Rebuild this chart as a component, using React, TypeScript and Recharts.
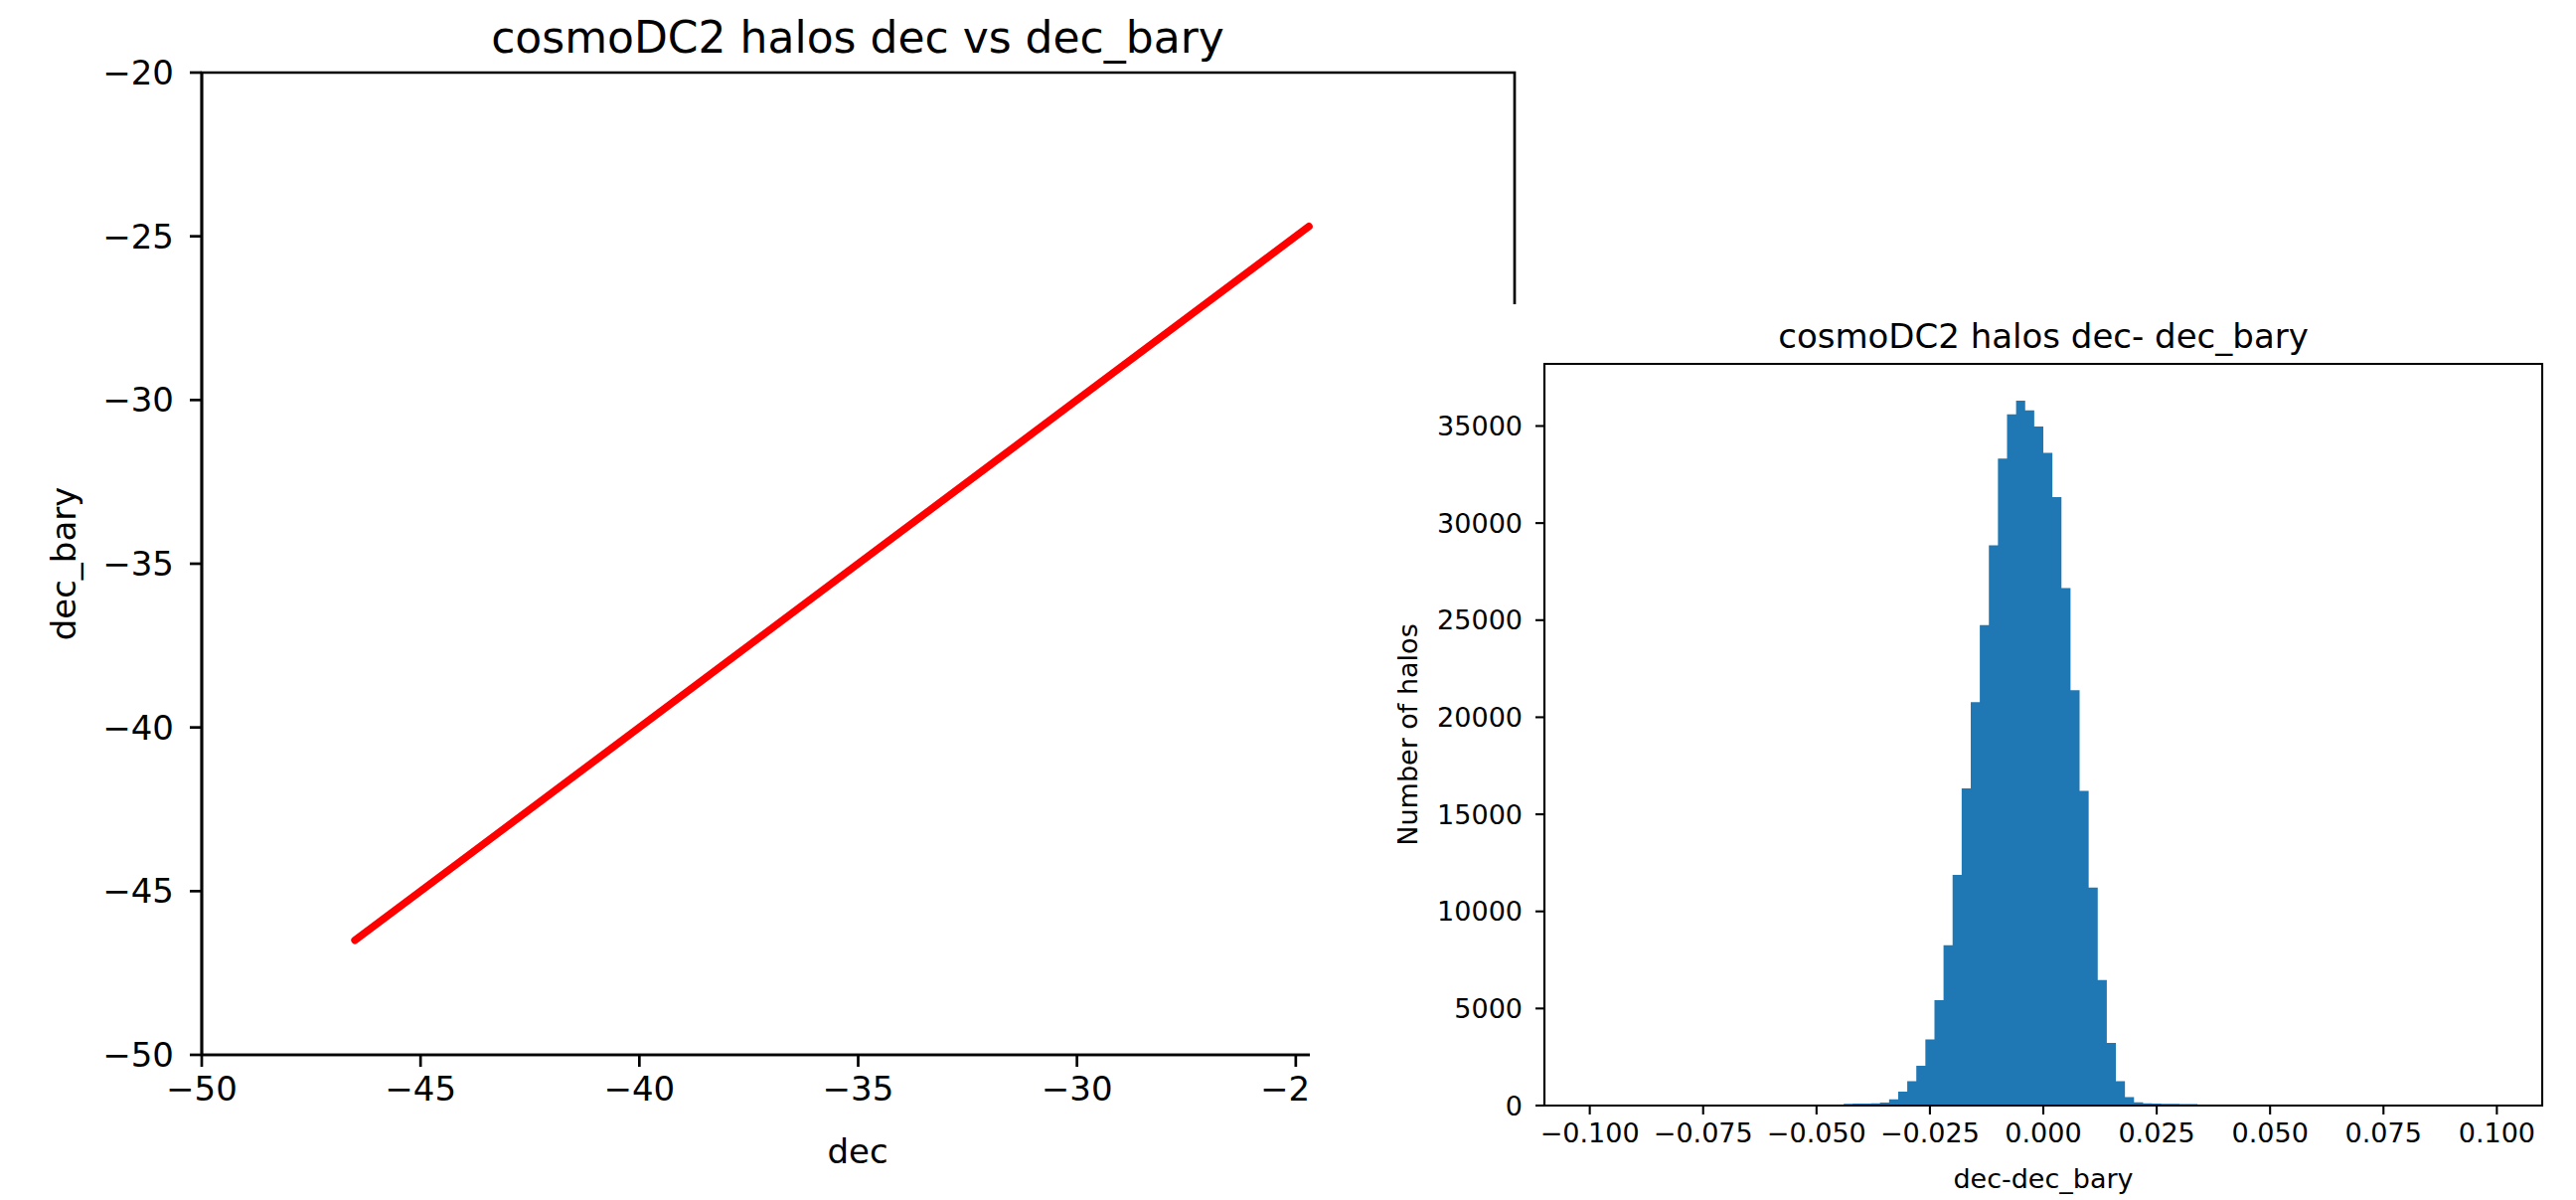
import { LineChart, Line, XAxis, YAxis, ReferenceArea, ComposedChart, Area } from 'recharts';

// left panel: dec vs dec_bary (points read along the red band)
const decValues = [-46.5, -42, -38, -34, -30, -27, -24.7];
const decBaryValues = [-46.5, -42, -38, -34, -30, -27, -24.7];
const leftTicks = [-50, -45, -40, -35, -30, -25, -20];

// right panel: histogram of dec - dec_bary, bins of 0.002 (left edges)
const binStarts = [
  -0.044, -0.042, -0.04, -0.038, -0.036, -0.034, -0.032, -0.03, -0.028, -0.026,
  -0.024, -0.022, -0.02, -0.018, -0.016, -0.014, -0.012, -0.01, -0.008, -0.006,
  -0.004, -0.002, 0, 0.002, 0.004, 0.006, 0.008, 0.01, 0.012, 0.014,
  0.016, 0.018, 0.02, 0.022, 0.024, 0.026, 0.028, 0.03, 0.032, 0.034,
];
const binCounts = [
  90, 100, 100, 110, 150, 320, 720, 1250, 2050, 3400,
  5430, 8255, 11875, 16340, 20775, 24740, 28860, 33320, 35600, 36300,
  35800, 34980, 33615, 31335, 26650, 21390, 16210, 11230, 6470, 3220,
  1250, 430, 170, 120, 100, 90, 90, 80, 80, 0,
];
const histXTicks = [-0.1, -0.075, -0.05, -0.025, 0, 0.025, 0.05, 0.075, 0.1];
const histYTicks = [0, 5000, 10000, 15000, 20000, 25000, 30000, 35000];

const FONT = 'DejaVu Sans';
const minus = (s: string) => s.replace('-', '\u2212');

export default function App() {
  const lineData = decValues.map((d, i) => ({ dec: d, decBary: decBaryValues[i] }));
  const histData = binStarts.map((b, i) => ({ bin: b, count: binCounts[i] }));

  return (
    <div style={{ position: 'absolute', left: 0, top: 0, width: 2592, height: 1207, background: '#fff', overflow: 'hidden' }}>
      {/* left figure */}
      <div style={{ position: 'absolute', left: 0, top: 0 }}>
        <LineChart width={1600} height={1207} data={lineData} margin={{ top: 73, right: 76, bottom: 0, left: 0 }}>
          <XAxis
            type="number"
            dataKey="dec"
            domain={[-50, -20]}
            ticks={leftTicks}
            allowDataOverflow
            height={146}
            tickSize={12}
            tickMargin={10}
            tickFormatter={(v: number) => minus(String(v))}
            axisLine={{ stroke: '#000', strokeWidth: 2.7 }}
            tickLine={{ stroke: '#000', strokeWidth: 2.7 }}
            tick={{ fill: '#000', fontSize: 34, fontFamily: FONT }}
          />
          <YAxis
            type="number"
            domain={[-50, -20]}
            ticks={leftTicks}
            allowDataOverflow
            width={203}
            tickSize={12}
            tickMargin={16}
            tickFormatter={(v: number) => minus(String(v))}
            axisLine={{ stroke: '#000', strokeWidth: 2.7 }}
            tickLine={{ stroke: '#000', strokeWidth: 2.7 }}
            tick={{ fill: '#000', fontSize: 34, fontFamily: FONT }}
          />
          <ReferenceArea x1={-50} x2={-20} y1={-50} y2={-20} fill="none" stroke="#000" strokeWidth={2.7} />
          <Line
            type="linear"
            dataKey="decBary"
            stroke="#ff0000"
            strokeWidth={7.5}
            strokeLinecap="round"
            dot={false}
            isAnimationActive={false}
          />
        </LineChart>
      </div>
      <svg width={1600} height={1207} style={{ position: 'absolute', left: 0, top: 0, pointerEvents: 'none' }}>
        <text x={863} y={53} textAnchor="middle" fontFamily={FONT} fontSize={44} fill="#000">
          cosmoDC2 halos dec vs dec_bary
        </text>
        <text x={863} y={1170} textAnchor="middle" fontFamily={FONT} fontSize={34} fill="#000">
          dec
        </text>
        <text x={64} y={567} textAnchor="middle" dominantBaseline="central" transform="rotate(-90 64 567)" fontFamily={FONT} fontSize={34} fill="#000">
          dec_bary
        </text>
      </svg>

      {/* right figure, pasted over the left one */}
      <div style={{ position: 'absolute', left: 1318, top: 306, width: 1274, height: 901, background: '#fff' }}>
        <ComposedChart width={1274} height={901} data={histData} margin={{ top: 60, right: 34, bottom: 0, left: 0 }}>
          <XAxis
            type="number"
            dataKey="bin"
            domain={[-0.11, 0.11]}
            ticks={histXTicks}
            allowDataOverflow
            height={95}
            tickSize={9}
            tickMargin={9}
            tickFormatter={(v: number) => minus(v.toFixed(3))}
            axisLine={{ stroke: '#000', strokeWidth: 2.1 }}
            tickLine={{ stroke: '#000', strokeWidth: 2.1 }}
            tick={{ fill: '#000', fontSize: 27, fontFamily: FONT }}
          />
          <YAxis
            type="number"
            domain={[0, 38200]}
            ticks={histYTicks}
            allowDataOverflow
            width={236}
            tickSize={9}
            tickMargin={13}
            axisLine={{ stroke: '#000', strokeWidth: 2.1 }}
            tickLine={{ stroke: '#000', strokeWidth: 2.1 }}
            tick={{ fill: '#000', fontSize: 27, fontFamily: FONT }}
          />
          <Area
            type="stepAfter"
            dataKey="count"
            fill="#1f77b4"
            fillOpacity={1}
            stroke="none"
            isAnimationActive={false}
          />
          <ReferenceArea x1={-0.11} x2={0.11} y1={0} y2={38200} fill="none" stroke="#000" strokeWidth={2.1} />
        </ComposedChart>
        <svg width={1274} height={901} style={{ position: 'absolute', left: 0, top: 0, pointerEvents: 'none' }}>
          <text x={738} y={44} textAnchor="middle" fontFamily={FONT} fontSize={34} fill="#000">
            cosmoDC2 halos dec- dec_bary
          </text>
          <text x={738} y={889} textAnchor="middle" fontFamily={FONT} fontSize={27} fill="#000">
            dec-dec_bary
          </text>
          <text x={98} y={433} textAnchor="middle" dominantBaseline="central" transform="rotate(-90 98 433)" fontFamily={FONT} fontSize={27} fill="#000">
            Number of halos
          </text>
        </svg>
      </div>
    </div>
  );
}
